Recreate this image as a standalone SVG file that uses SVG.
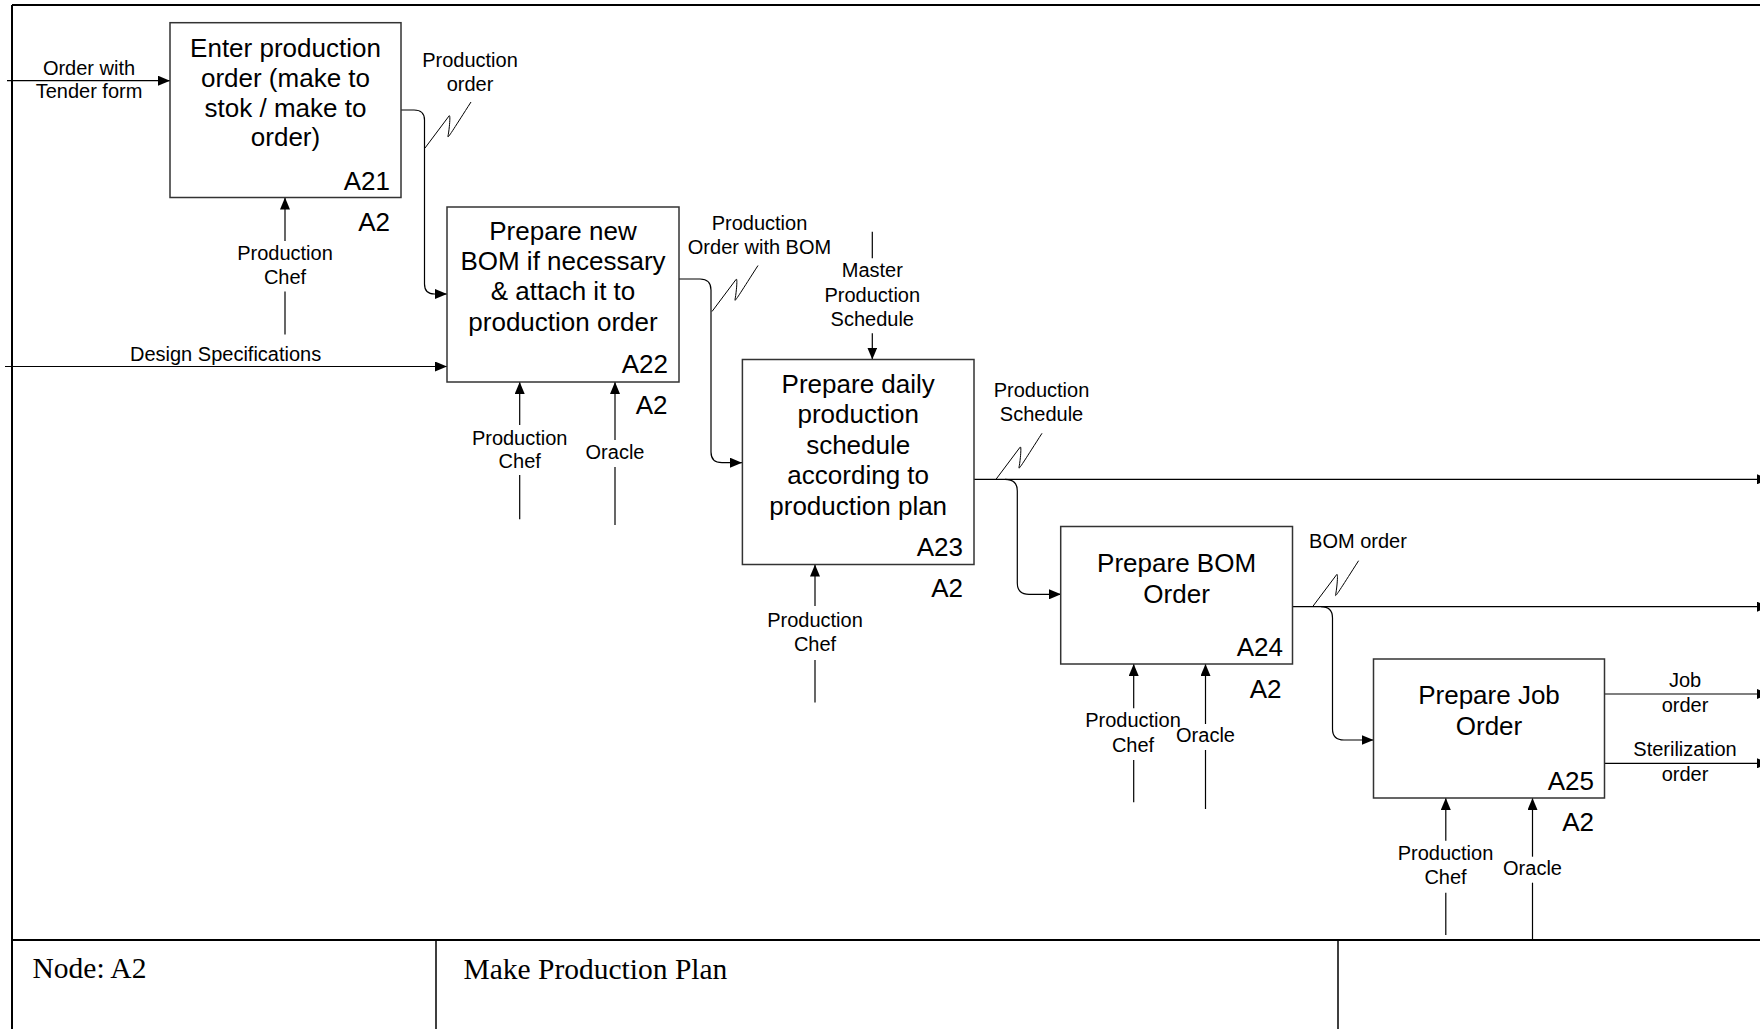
<svg xmlns="http://www.w3.org/2000/svg" width="1760" height="1029" viewBox="0 0 1760 1029">
  <style>
    .frame { stroke: #000; stroke-width: 2; fill: none; }
    .box rect { fill: #fff; stroke: #333; stroke-width: 1.5; }
    .t { font-family: "Liberation Sans", Arial, sans-serif; fill: #000; }
    .title { font-size: 26px; text-anchor: middle; }
    .id { font-size: 26px; text-anchor: end; }
    .lbl { font-size: 20px; text-anchor: middle; }
    .conn { stroke: #000; stroke-width: 1.2; fill: none; }
    .arr { marker-end: url(#ah); }
    .tb { font-family: "Liberation Serif", "Times New Roman", serif; font-size: 29.5px; fill: #000; }
  </style>
  <defs>
    <marker id="ah" viewBox="0 0 12 10" refX="12" refY="5" markerWidth="12" markerHeight="10" markerUnits="userSpaceOnUse" orient="auto">
      <path d="M0 0 L12 5 L0 10 Z" fill="#000"/>
    </marker>
    <!-- squiggle tying a label to its arrow -->
    <path id="sq" d="M0 0 L24 -32 C26 -35 24 -16 23 -12 C22 -8 28 -18 46 -46" fill="none" stroke="#000" stroke-width="1"/>
  </defs>

  <rect width="1760" height="1029" fill="#fff"/>

  <!-- sheet frame and title block -->
  <g id="frame">
    <path class="frame" d="M12 5 H1760 M12 5 V1029 M12 940 H1760"/>
    <path d="M436 940 V1029 M1338 940 V1029" stroke="#000" stroke-width="1.5" fill="none"/>
    <text class="tb" x="32.5" y="978">Node: A2</text>
    <text class="tb" x="463.5" y="979">Make Production Plan</text>
  </g>

  <!-- connectors -->
  <g id="connectors">
    <path class="conn arr" d="M7 80.7 H170"/>
    <path class="conn arr" d="M401 110 H414 Q424.5 110 424.5 120 V284 Q424.5 294 434.5 294 H447"/>
    <path class="conn arr" d="M5 366.5 H447"/>
    <path class="conn arr" d="M285 241 V197.5"/>
    <path class="conn" d="M285 291.5 V334.5"/>
    <path class="conn arr" d="M519.7 425 V382"/>
    <path class="conn" d="M519.7 475 V519.3"/>
    <path class="conn arr" d="M615 440 V382"/>
    <path class="conn" d="M615 467 V525"/>
    <path class="conn arr" d="M679 279 H700 Q711 279 711 290 V452 Q711 462.7 722 462.7 H742"/>
    <path class="conn" d="M872.3 231.7 V258.3"/>
    <path class="conn arr" d="M872.3 333.3 V359.5"/>
    <path class="conn arr" d="M815 606 V564.5"/>
    <path class="conn" d="M815 660 V702.6"/>
    <path class="conn arr" d="M974 479.3 H1769"/>
    <path class="conn arr" d="M1005 479.3 Q1017.3 479.3 1017.3 491 V583 Q1017.3 594.3 1029 594.3 H1061"/>
    <path class="conn arr" d="M1133.7 708.3 V664"/>
    <path class="conn" d="M1133.7 760 V802.3"/>
    <path class="conn arr" d="M1205.5 724 V664"/>
    <path class="conn" d="M1205.5 750 V809"/>
    <path class="conn arr" d="M1292.5 606.7 H1769"/>
    <path class="conn arr" d="M1321 606.7 Q1332.5 606.7 1332.5 618 V729 Q1332.5 740 1344 740 H1373.5"/>
    <path class="conn arr" d="M1604.5 694 H1769"/>
    <path class="conn arr" d="M1604.5 763.3 H1769"/>
    <path class="conn arr" d="M1445.8 840.7 V798"/>
    <path class="conn" d="M1445.8 892.7 V935"/>
    <path class="conn arr" d="M1532.5 856.7 V798"/>
    <path class="conn" d="M1532.5 882.7 V940"/>

    <use href="#sq" x="425" y="148"/>
    <use href="#sq" x="712" y="311.5"/>
    <use href="#sq" x="996" y="479.3"/>
    <use href="#sq" x="1312.6" y="606.7"/>

    <g class="t lbl">
      <text x="89" y="74.5">Order with</text>
      <text x="89" y="98">Tender form</text>
      <text x="470" y="66.7">Production</text>
      <text x="470" y="90.7">order</text>
      <text x="285" y="260">Production</text>
      <text x="285" y="284">Chef</text>
      <text x="225.6" y="360.5">Design Specifications</text>
      <text x="519.7" y="445">Production</text>
      <text x="519.7" y="467.5">Chef</text>
      <text x="615" y="459.3">Oracle</text>
      <text x="759.5" y="230">Production</text>
      <text x="759.5" y="253.5">Order with BOM</text>
      <text x="872.3" y="276.7">Master</text>
      <text x="872.3" y="301.5">Production</text>
      <text x="872.3" y="325.7">Schedule</text>
      <text x="815" y="626.6">Production</text>
      <text x="815" y="651">Chef</text>
      <text x="1041.5" y="396.7">Production</text>
      <text x="1041.5" y="420.7">Schedule</text>
      <text x="1133" y="726.6">Production</text>
      <text x="1133" y="751.5">Chef</text>
      <text x="1205.5" y="742">Oracle</text>
      <text x="1358" y="548.3">BOM order</text>
      <text x="1445.5" y="860">Production</text>
      <text x="1445.5" y="883.7">Chef</text>
      <text x="1532.5" y="875">Oracle</text>
      <text x="1685" y="686.7">Job</text>
      <text x="1685" y="711.7">order</text>
      <text x="1685" y="756">Sterilization</text>
      <text x="1685" y="780.7">order</text>
    </g>
  </g>

  <!-- activity boxes -->
  <g id="A21" class="box">
    <rect x="170" y="22.7" width="231" height="174.8"/>
    <g class="t title">
      <text x="285.5" y="56.5">Enter production</text>
      <text x="285.5" y="86.5">order (make to</text>
      <text x="285.5" y="116.5">stok / make to</text>
      <text x="285.5" y="146">order)</text>
    </g>
    <text class="t id" x="390" y="189.5">A21</text>
    <text class="t id" x="390" y="230.5">A2</text>
  </g>

  <g id="A22" class="box">
    <rect x="447" y="207" width="232" height="175"/>
    <g class="t title">
      <text x="563" y="240">Prepare new</text>
      <text x="563" y="270">BOM if necessary</text>
      <text x="563" y="300">&amp; attach it to</text>
      <text x="563" y="331">production order</text>
    </g>
    <text class="t id" x="668" y="372.5">A22</text>
    <text class="t id" x="667.5" y="413.5">A2</text>
  </g>

  <g id="A23" class="box">
    <rect x="742.4" y="359.5" width="231.6" height="205"/>
    <g class="t title">
      <text x="858.2" y="392.5">Prepare daily</text>
      <text x="858.2" y="423">production</text>
      <text x="858.2" y="453.5">schedule</text>
      <text x="858.2" y="484">according to</text>
      <text x="858.2" y="514.5">production plan</text>
    </g>
    <text class="t id" x="963" y="556">A23</text>
    <text class="t id" x="963" y="597">A2</text>
  </g>

  <g id="A24" class="box">
    <rect x="1060.7" y="526.5" width="231.8" height="137.5"/>
    <g class="t title">
      <text x="1176.6" y="571.5">Prepare BOM</text>
      <text x="1176.6" y="602.5">Order</text>
    </g>
    <text class="t id" x="1283" y="656">A24</text>
    <text class="t id" x="1281.5" y="697.5">A2</text>
  </g>

  <g id="A25" class="box">
    <rect x="1373.5" y="659" width="231" height="139"/>
    <g class="t title">
      <text x="1489" y="703.5">Prepare Job</text>
      <text x="1489" y="735">Order</text>
    </g>
    <text class="t id" x="1594" y="790">A25</text>
    <text class="t id" x="1594" y="830.5">A2</text>
  </g>
</svg>
